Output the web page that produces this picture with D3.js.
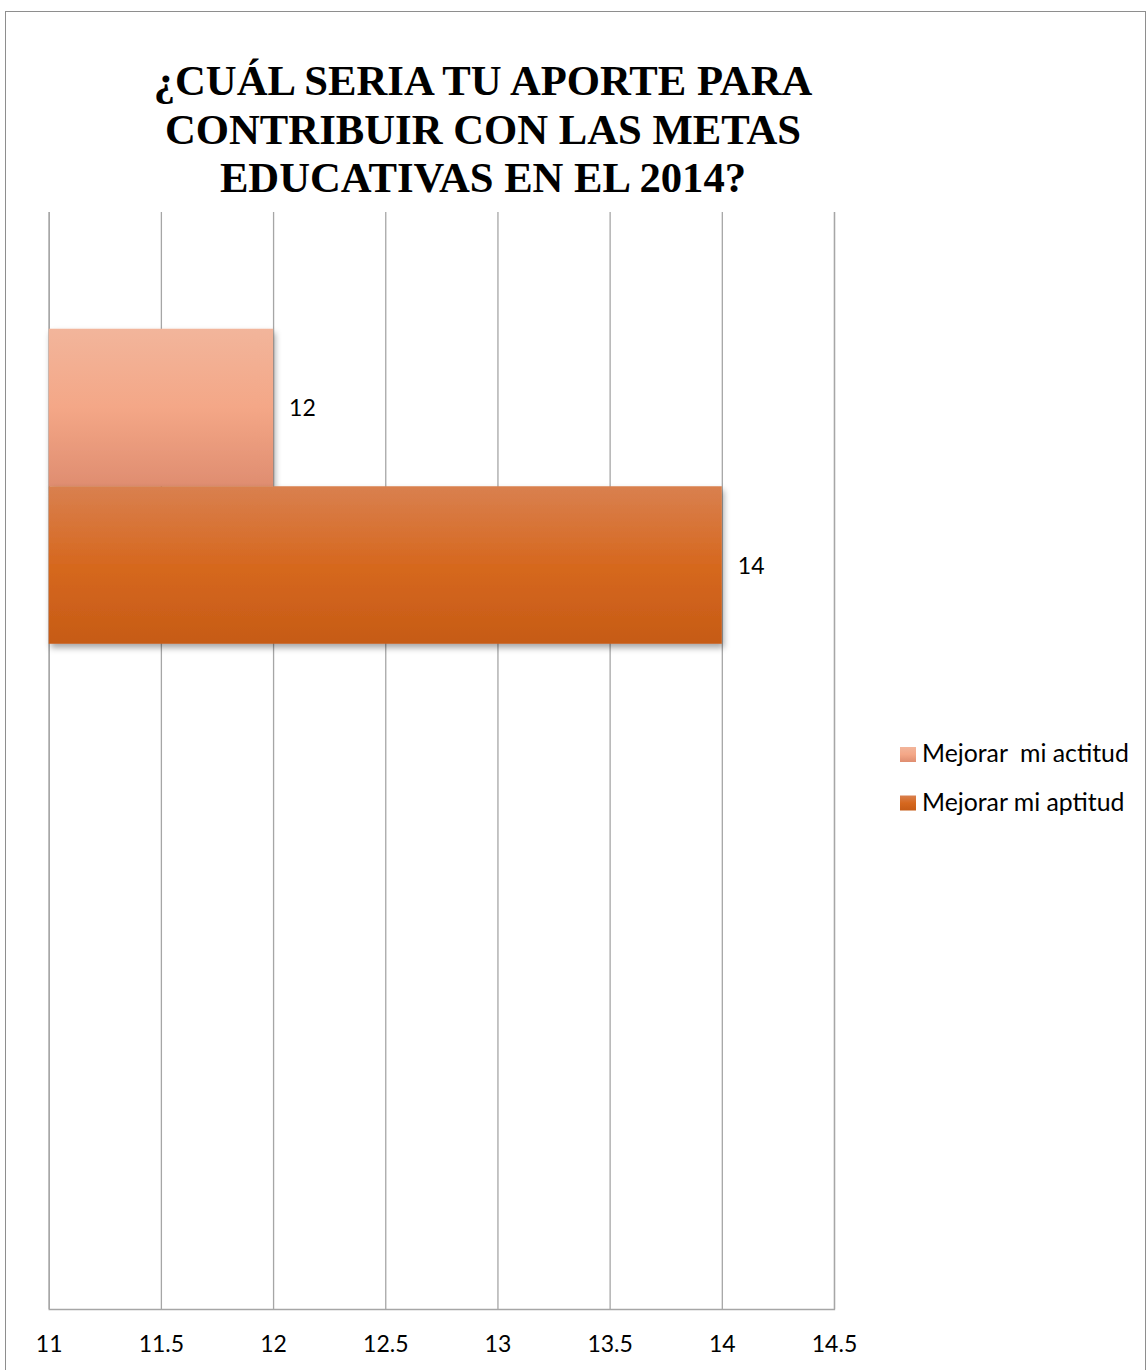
<!DOCTYPE html>
<html>
<head>
<meta charset="utf-8">
<script src="https://cdn.jsdelivr.net/npm/d3@7"></script>
<style>
  html, body { margin: 0; padding: 0; background: #fff; }
  svg { display: block; }
</style>
</head>
<body>
<script>
// ---- data ----
const titleLines = ["¿CUÁL SERIA TU APORTE PARA", "CONTRIBUIR CON LAS METAS", "EDUCATIVAS EN EL 2014?"];
const categories = ["1", "2"];
const seriesNames = ["Mejorar  mi actitud", "Mejorar mi aptitud"];
const actitudValues = [12, null];
const aptitudValues = [14, null];
const xTicks = [11, 11.5, 12, 12.5, 13, 13.5, 14, 14.5];

(function () {
const W = 1146, H = 1370;
const svg = d3.select("body").append("svg").attr("width", W).attr("height", H);
const defs = svg.append("defs");

const gradStops = [
  [["0%", "#f2b59b"], ["50%", "#f4a787"], ["100%", "#df8d70"]],
  [["0%", "#d9804f"], ["50%", "#d6681f"], ["100%", "#c65b16"]]
];
gradStops.forEach((stops, i) => {
  const g = defs.append("linearGradient").attr("id", "grad" + i)
    .attr("x1", 0).attr("y1", 0).attr("x2", 0).attr("y2", 1);
  stops.forEach(s => g.append("stop").attr("offset", s[0]).attr("stop-color", s[1]));
});
const f = defs.append("filter").attr("id", "shadow")
  .attr("x", "-5%").attr("y", "-5%").attr("width", "120%").attr("height", "130%");
f.append("feDropShadow").attr("dx", 2).attr("dy", 4).attr("stdDeviation", 3)
  .attr("flood-color", "#000").attr("flood-opacity", 0.35);

// outer border
svg.append("rect").attr("x", 5.5).attr("y", 11.5).attr("width", 1140).attr("height", 1380)
  .attr("fill", "#fff").attr("stroke", "#8e8e8e").attr("stroke-width", 1);

// title
svg.append("g").selectAll("text").data(titleLines).join("text")
  .attr("x", 483).attr("y", (d, i) => 95 + i * 48.5)
  .attr("text-anchor", "middle")
  .attr("font-family", "'Liberation Serif', 'Times New Roman', serif")
  .attr("font-weight", "bold").attr("font-size", 42.7).attr("fill", "#000")
  .text(d => d);

// scales
const pLeft = 48.7, pRight = 834, pTop = 212, pBottom = 1309;
const x = d3.scaleLinear().domain([11, 14.5]).range([pLeft, pRight]);
const y = d3.scaleBand().domain(categories).range([pTop, pBottom]).paddingInner(0).paddingOuter(0);
const ySub = d3.scaleBand().domain(seriesNames).range([0, y.bandwidth()]).paddingInner(0).paddingOuter(0.741);

// gridlines
const grid = svg.append("g").attr("transform", `translate(0,${pBottom})`)
  .call(d3.axisBottom(x).tickValues(xTicks).tickSize(-(pBottom - pTop)).tickFormat(""));
grid.select(".domain").attr("stroke", "#a6a6a6").attr("stroke-width", 1.3);
grid.selectAll(".tick line").attr("stroke", "#a6a6a6").attr("stroke-width", 1.3);

// tick labels
const axisLabels = svg.append("g").attr("transform", `translate(0,${pBottom})`)
  .call(d3.axisBottom(x).tickValues(xTicks).tickSize(0).tickPadding(0).tickFormat(d => String(d)));
axisLabels.select(".domain").remove();
axisLabels.selectAll(".tick text")
  .attr("y", 43).attr("dy", 0)
  .attr("font-family", "Lato, 'Open Sans', sans-serif").attr("font-size", 23).attr("fill", "#000");

// bars
const series = [actitudValues, aptitudValues];
const barG = svg.append("g");
series.forEach((vals, si) => {
  const data = categories.map((c, ci) => ({ c, v: vals[ci] })).filter(d => d.v != null);
  barG.selectAll(".bar" + si).data(data).join("rect")
    .attr("class", "bar" + si)
    .attr("x", x(11))
    .attr("y", d => y(d.c) + ySub(seriesNames[si]))
    .attr("width", d => x(d.v) - x(11))
    .attr("height", ySub.bandwidth())
    .attr("fill", `url(#grad${si})`)
    .attr("filter", "url(#shadow)");
  barG.selectAll(".lab" + si).data(data).join("text")
    .attr("class", "lab" + si)
    .attr("x", d => x(d.v) + 16)
    .attr("y", d => y(d.c) + ySub(seriesNames[si]) + ySub.bandwidth() / 2 + 9)
    .attr("font-family", "Lato, 'Open Sans', sans-serif").attr("font-size", 23).attr("fill", "#000")
    .text(d => d.v);
});

// legend
const lg = svg.append("g").attr("transform", "translate(900,762)");
seriesNames.forEach((name, i) => {
  lg.append("rect").attr("x", 0).attr("y", i * 48.5 - 15).attr("width", 16).attr("height", 15)
    .attr("fill", `url(#grad${i})`);
  lg.append("text").attr("x", 22).attr("y", i * 48.5)
    .attr("xml:space", "preserve").style("white-space", "pre")
    .attr("font-family", "Lato, 'Open Sans', sans-serif").attr("font-size", 24.8).attr("fill", "#000")
    .text(name);
});
})();
</script>
</body>
</html>
